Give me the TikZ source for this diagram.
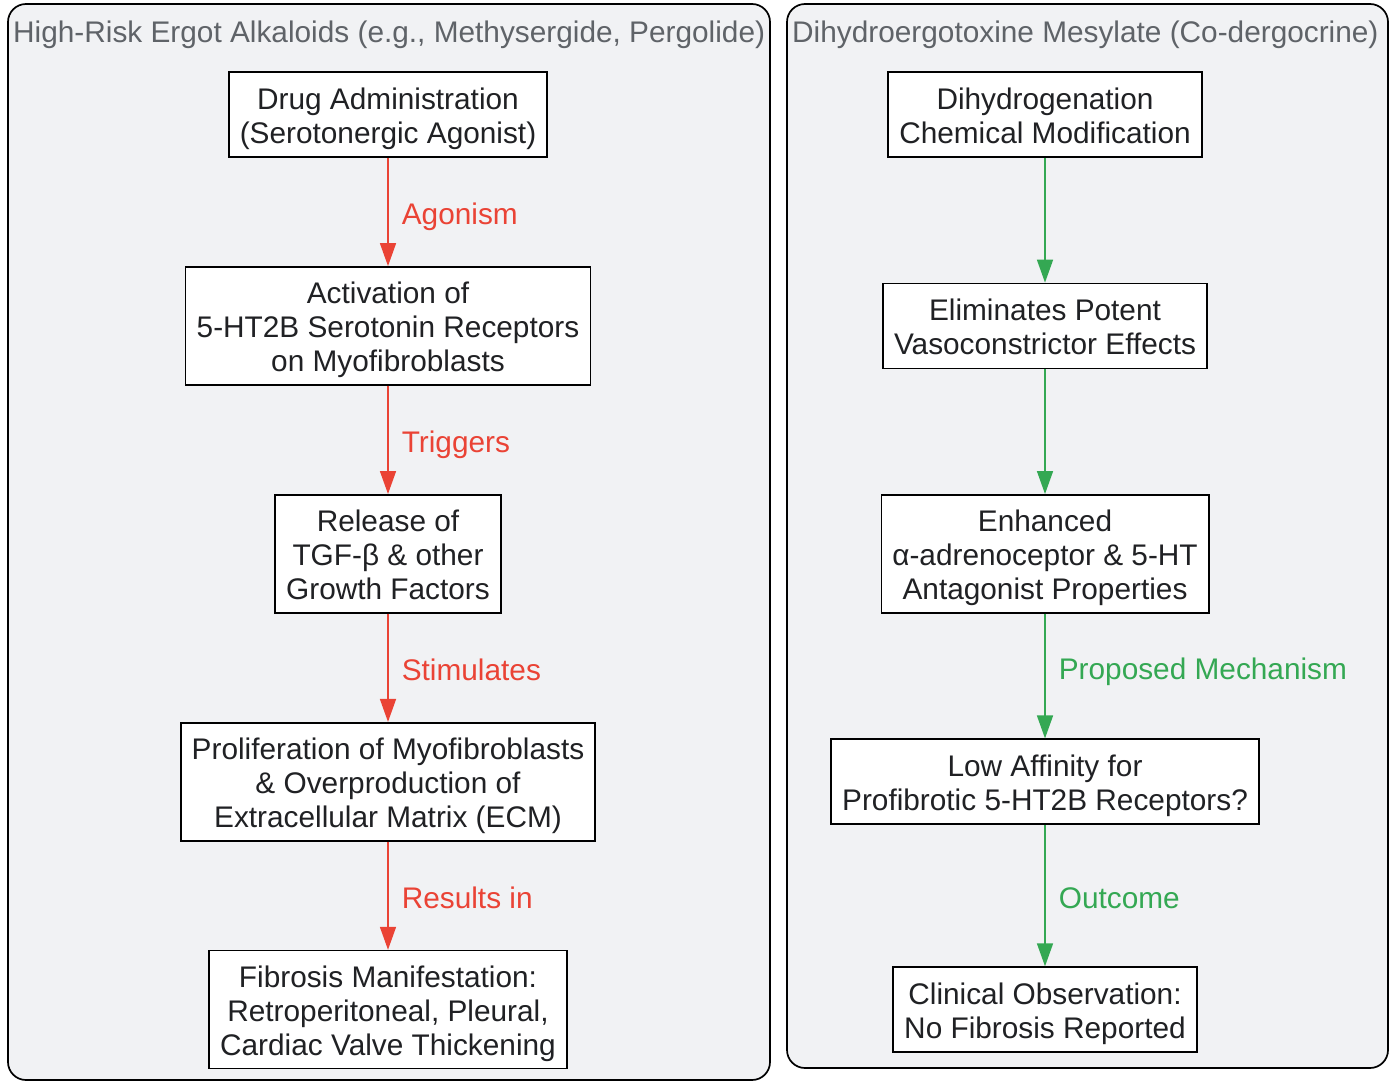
\documentclass[tikz,border=0pt]{standalone}
\usepackage{fontspec}
\setmainfont{Liberation Sans}
\usepackage{tikz}
\usetikzlibrary{arrows.meta, positioning}

\definecolor{panelgray}{HTML}{F1F2F4}
\definecolor{titlegray}{HTML}{5F6368}
\definecolor{textdark}{HTML}{202124}
\definecolor{riskred}{HTML}{EA4335}
\definecolor{safegreen}{HTML}{34A853}

\tikzset{
  panel/.style={draw=black, line width=1.7pt, fill=panelgray, rounded corners=18pt},
  paneltitle/.style={anchor=base west, inner sep=0pt, text=titlegray},
  flowbox/.style={draw=black, line width=1.6pt, fill=white, text=textdark,
                  align=center, inner xsep=11pt, inner ysep=4pt, text depth=6pt},
  two/.style={flowbox, minimum height=85pt, text height=64pt},
  three/.style={flowbox, minimum height=118pt, text height=98pt},
  redarrow/.style={draw=riskred, line width=1.6pt, -{Triangle[length=23pt,width=16pt]}},
  greenarrow/.style={draw=safegreen, line width=1.6pt, -{Triangle[length=23pt,width=16pt]}},
  edgelabel/.style={midway, anchor=base west, xshift=13pt, yshift=-12.5pt, inner sep=0pt}
}

\begin{document}
\begin{tikzpicture}[x=1pt, y=-1pt, node distance=108.3pt,
                    font=\fontsize{29.8pt}{34pt}\selectfont]
\useasboundingbox (0,0) rectangle (1396,1082);

% panels
\draw[panel] (8,4) rectangle (770,1080);
\draw[panel] (787,4) rectangle (1388,1068);
\node[paneltitle] (lefttitle) at (13,42) {High-Risk Ergot Alkaloids (e.g., Methysergide, Pergolide)};
\node[paneltitle] (righttitle) at (792,42) {Dihydroergotoxine Mesylate (Co-dergocrine)};

% left column
\node[two] (drug) at (388,114.5) {Drug Administration\\(Serotonergic Agonist)};
\node[three, below=of drug] (activ) {Activation of\\5-HT2B Serotonin Receptors\\on Myofibroblasts};
\node[three, below=of activ] (release) {Release of\\TGF-β \& other\\Growth Factors};
\node[three, below=of release] (prolif) {Proliferation of Myofibroblasts\\\& Overproduction of\\Extracellular Matrix (ECM)};
\node[three, below=of prolif] (fibro) {Fibrosis Manifestation:\\Retroperitoneal, Pleural,\\Cardiac Valve Thickening};

% right column, same rows
\node[two] (dihyd) at (1045,114.5) {Dihydrogenation\\Chemical Modification};
\node[two] (elim) at (dihyd |- activ) {Eliminates Potent\\Vasoconstrictor Effects};
\node[three] (enhanc) at (dihyd |- release) {Enhanced\\α-adrenoceptor \& 5-HT\\Antagonist Properties};
\node[two] (lowaff) at (dihyd |- prolif) {Low Affinity for\\Profibrotic 5-HT2B Receptors?};
\node[two] (clinic) at (dihyd |- fibro) {Clinical Observation:\\No Fibrosis Reported};

% left chain
\draw[redarrow] (drug) -- node[edgelabel, text=riskred] {Agonism} (activ);
\draw[redarrow] (activ) -- node[edgelabel, text=riskred] {Triggers} (release);
\draw[redarrow] (release) -- node[edgelabel, text=riskred] {Stimulates} (prolif);
\draw[redarrow] (prolif) -- node[edgelabel, text=riskred] {Results in} (fibro);

% right chain
\draw[greenarrow] (dihyd) -- (elim);
\draw[greenarrow] (elim) -- (enhanc);
\draw[greenarrow] (enhanc) -- node[edgelabel, pos=0.43, text=safegreen] {Proposed Mechanism} (lowaff);
\draw[greenarrow] (lowaff) -- node[edgelabel, text=safegreen] {Outcome} (clinic);

\end{tikzpicture}
\end{document}
